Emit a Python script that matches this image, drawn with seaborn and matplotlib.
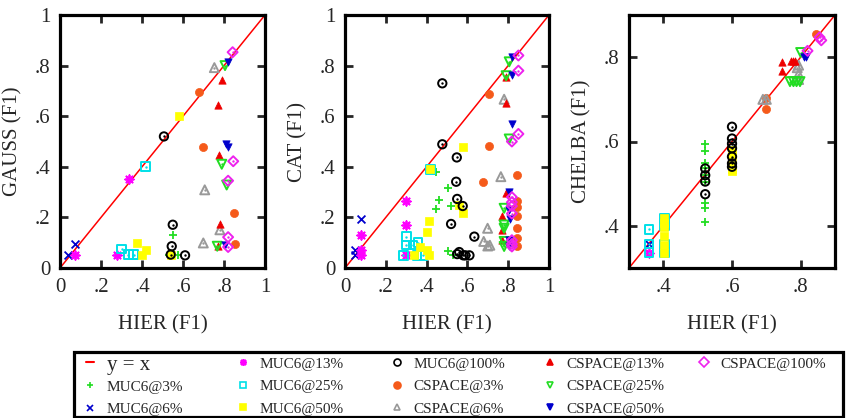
import matplotlib
matplotlib.use('Agg')
import numpy as np
import pandas as pd
import matplotlib.pyplot as plt
from matplotlib.lines import Line2D
from matplotlib.patches import Rectangle
import seaborn as sns

# series names (legend order)
SERIES = ["MUC6@3%", "MUC6@6%", "MUC6@13%", "MUC6@25%", "MUC6@50%", "MUC6@100%",
          "CSPACE@3%", "CSPACE@6%", "CSPACE@13%", "CSPACE@25%", "CSPACE@50%", "CSPACE@100%"]

# ---- GAUSS vs HIER (x = HIER F1, y = GAUSS F1)
gauss_muc6_3 = ([0.553, 0.53, 0.577], [0.13, 0.05, 0.05])
gauss_muc6_6 = ([0.04, 0.073], [0.053, 0.095])
gauss_muc6_13 = ([0.073, 0.276, 0.338], [0.05, 0.05, 0.353])
gauss_muc6_25 = ([0.30, 0.333, 0.36, 0.418], [0.075, 0.053, 0.053, 0.40])
gauss_muc6_50 = ([0.374, 0.418, 0.40, 0.58, 0.54], [0.10, 0.07, 0.053, 0.60, 0.053])
gauss_muc6_100 = ([0.507, 0.55, 0.545, 0.54, 0.61], [0.52, 0.171, 0.086, 0.053, 0.05])
gauss_cspace_3 = ([0.68, 0.699, 0.85, 0.855], [0.695, 0.478, 0.216, 0.095])
gauss_cspace_6 = ([0.753, 0.706, 0.699, 0.78], [0.792, 0.309, 0.099, 0.151])
gauss_cspace_13 = ([0.789, 0.772, 0.776, 0.78, 0.772], [0.743, 0.645, 0.445, 0.175, 0.088])
gauss_cspace_25 = ([0.805, 0.789, 0.813, 0.767], [0.80, 0.41, 0.328, 0.086])
gauss_cspace_50 = ([0.818, 0.81, 0.82, 0.805], [0.814, 0.49, 0.478, 0.092])
gauss_cspace_100 = ([0.842, 0.845, 0.82, 0.82, 0.82], [0.853, 0.422, 0.345, 0.122, 0.083])

# ---- CAT vs HIER
cat_muc6_3 = ([0.444, 0.504, 0.46, 0.444, 0.52, 0.504, 0.53],
              [0.38, 0.315, 0.269, 0.233, 0.246, 0.068, 0.05])
cat_muc6_6 = ([0.077, 0.049, 0.049], [0.193, 0.071, 0.051])
cat_muc6_13 = ([0.077, 0.077, 0.077, 0.30, 0.30, 0.30], [0.13, 0.071, 0.05, 0.265, 0.17, 0.05])
cat_muc6_25 = ([0.30, 0.30, 0.333, 0.358, 0.285, 0.353, 0.38, 0.418],
               [0.124, 0.091, 0.091, 0.10, 0.05, 0.05, 0.05, 0.39])
cat_muc6_50 = ([0.418, 0.411, 0.40, 0.366, 0.40, 0.34, 0.41, 0.58, 0.58, 0.56],
               [0.39, 0.187, 0.144, 0.084, 0.071, 0.05, 0.05, 0.477, 0.216, 0.25])
cat_muc6_100 = ([0.477, 0.477, 0.548, 0.545, 0.55, 0.577, 0.52, 0.634, 0.56, 0.55, 0.58, 0.59, 0.61],
                [0.73, 0.489, 0.437, 0.341, 0.273, 0.245, 0.174, 0.124, 0.063, 0.055, 0.05, 0.05, 0.05])
cat_cspace_3 = ([0.707, 0.707, 0.678, 0.845, 0.845, 0.845, 0.845, 0.845, 0.845, 0.845],
                [0.687, 0.483, 0.341, 0.369, 0.266, 0.242, 0.205, 0.159, 0.12, 0.087])
cat_cspace_6 = ([0.78, 0.764, 0.699, 0.68, 0.70, 0.71], [0.667, 0.361, 0.157, 0.105, 0.087, 0.09])
cat_cspace_13 = ([0.789, 0.789, 0.789, 0.77, 0.77, 0.77], [0.756, 0.653, 0.298, 0.205, 0.15, 0.11])
cat_cspace_25 = ([0.805, 0.79, 0.805, 0.78, 0.78, 0.78, 0.78, 0.78],
                 [0.815, 0.76, 0.51, 0.236, 0.17, 0.157, 0.105, 0.085])
cat_cspace_50 = ([0.818, 0.818, 0.818, 0.805, 0.805, 0.81, 0.805, 0.805],
                 [0.835, 0.763, 0.568, 0.302, 0.23, 0.193, 0.11, 0.085])
cat_cspace_100 = ([0.85, 0.85, 0.85, 0.818, 0.818, 0.818, 0.818, 0.818, 0.818, 0.818, 0.818],
                  [0.84, 0.78, 0.53, 0.50, 0.28, 0.26, 0.245, 0.215, 0.11, 0.095, 0.085])

# ---- CHELBA vs HIER
chelba_muc6_3 = ([0.522] * 9, [0.594, 0.578, 0.55, 0.536, 0.52, 0.505, 0.455, 0.442, 0.41])
chelba_muc6_6 = ([0.358], [0.357])
chelba_muc6_13 = ([0.358], [0.336])
chelba_muc6_25 = ([0.358, 0.358, 0.358, 0.403, 0.403, 0.403, 0.403],
                  [0.392, 0.357, 0.336, 0.418, 0.40, 0.355, 0.336])
chelba_muc6_50 = ([0.403] * 6 + [0.6] * 5,
                  [0.418, 0.407, 0.398, 0.375, 0.355, 0.336, 0.58, 0.565, 0.545, 0.535, 0.53])
chelba_muc6_100 = ([0.522] * 4 + [0.6] * 7,
                   [0.536, 0.52, 0.505, 0.475, 0.635, 0.607, 0.595, 0.584, 0.564, 0.548, 0.54])
chelba_cspace_3 = ([0.70, 0.70, 0.845], [0.704, 0.677, 0.854])
chelba_cspace_6 = ([0.69, 0.70, 0.794, 0.794, 0.794, 0.79], [0.70, 0.70, 0.781, 0.76, 0.747, 0.775])
chelba_cspace_13 = ([0.745, 0.745, 0.772, 0.779, 0.784], [0.788, 0.768, 0.792, 0.792, 0.792])
chelba_cspace_25 = ([0.769, 0.779, 0.788, 0.798, 0.80], [0.742, 0.742, 0.742, 0.742, 0.811])
chelba_cspace_50 = ([0.81, 0.815], [0.80, 0.80])
chelba_cspace_100 = ([0.82, 0.855, 0.86], [0.815, 0.847, 0.84])

gauss = [gauss_muc6_3, gauss_muc6_6, gauss_muc6_13, gauss_muc6_25, gauss_muc6_50, gauss_muc6_100,
         gauss_cspace_3, gauss_cspace_6, gauss_cspace_13, gauss_cspace_25, gauss_cspace_50, gauss_cspace_100]
cat = [cat_muc6_3, cat_muc6_6, cat_muc6_13, cat_muc6_25, cat_muc6_50, cat_muc6_100,
       cat_cspace_3, cat_cspace_6, cat_cspace_13, cat_cspace_25, cat_cspace_50, cat_cspace_100]
chelba = [chelba_muc6_3, chelba_muc6_6, chelba_muc6_13, chelba_muc6_25, chelba_muc6_50, chelba_muc6_100,
          chelba_cspace_3, chelba_cspace_6, chelba_cspace_13, chelba_cspace_25, chelba_cspace_50,
          chelba_cspace_100]

# marker, colour, size, open (hollow with centre dot)
STYLE = {
    "MUC6@3%": ('+', '#22dd22', 40, False),
    "MUC6@6%": ('x', '#0000cc', 32, False),
    "MUC6@13%": ((8, 2, 0), '#ff00ff', 38, False),
    "MUC6@25%": ('s', '#00e0e8', 40, True),
    "MUC6@50%": ('s', '#ffff00', 28, False),
    "MUC6@100%": ('o', '#000000', 36, True),
    "CSPACE@3%": ('o', '#f55a1a', 34, False),
    "CSPACE@6%": ('^', '#999999', 42, True),
    "CSPACE@13%": ('^', '#ee0000', 28, False),
    "CSPACE@25%": ('v', '#22dd22', 42, True),
    "CSPACE@50%": ('v', '#0000cc', 28, False),
    "CSPACE@100%": ('D', '#ee22ee', 26, True),
}

sns.set_style('ticks')
plt.rcParams['font.family'] = ['Liberation Serif', 'DejaVu Serif']
plt.rcParams['mathtext.fontset'] = 'stix'

W, H = 846, 418
fig = plt.figure(figsize=(W / 100, H / 100), dpi=100)


def px_axes(x0, x1, y0, y1):
    return fig.add_axes([x0 / W, 1 - y1 / H, (x1 - x0) / W, (y1 - y0) / H])


def draw(ax, data, lo, hi, ticks, ylabel):
    ax.plot([lo, hi], [lo, hi], color='red', lw=1.1, zorder=1)
    for name, (xs, ys) in zip(SERIES, data):
        m, c, s, hollow = STYLE[name]
        df = pd.DataFrame({'x': xs, 'y': ys})
        if m in ('+', 'x') or isinstance(m, tuple):
            sns.scatterplot(data=df, x='x', y='y', ax=ax, marker=m, s=s, color=c,
                            linewidth=1.3, zorder=3)
        elif hollow:
            sns.scatterplot(data=df, x='x', y='y', ax=ax, marker=m, s=s, color=c,
                            facecolor='none', edgecolor=c, linewidth=1.4, zorder=3)
            sns.scatterplot(data=df, x='x', y='y', ax=ax, marker='o', s=3, color=c,
                            edgecolor=c, linewidth=0, zorder=3)
        else:
            sns.scatterplot(data=df, x='x', y='y', ax=ax, marker=m, s=s, color=c,
                            edgecolor=c, linewidth=0.5, zorder=3)
    ax.set_xlim(lo, hi)
    ax.set_ylim(lo, hi)
    labels = [('%g' % t).replace('0.', '.') for t in ticks]
    ax.set_xticks(ticks)
    ax.set_xticklabels(labels)
    ax.set_yticks(ticks)
    ax.set_yticklabels(labels)
    ax.tick_params(direction='in', length=6, width=2, labelsize=15, pad=7,
                   top=True, right=True)
    for sp in ax.spines.values():
        sp.set_linewidth(2.3)
        sp.set_color('black')
    ax.set_xlabel('HIER (F1)', fontsize=15, labelpad=13)
    ax.set_ylabel(ylabel, fontsize=15, labelpad=9)


ticks01 = [0, 0.2, 0.4, 0.6, 0.8, 1]
ax1 = px_axes(60, 265, 15, 268)
draw(ax1, gauss, 0, 1, ticks01, 'GAUSS (F1)')
ax2 = px_axes(345, 549, 15, 268)
draw(ax2, cat, 0, 1, ticks01, 'CAT (F1)')
ax3 = px_axes(629, 835, 15, 268)
draw(ax3, chelba, 0.3, 0.9, [0.4, 0.6, 0.8], 'CHELBA (F1)')


# ---- legend: gnuplot-like fixed-width columns inside one box
def handle_for(name):
    m, c, s, hollow = STYLE[name]
    if hollow:
        return Line2D([], [], ls='none', marker=m, markersize=5, markerfacecolor='none',
                      markeredgecolor=c, markeredgewidth=1.2)
    return Line2D([], [], ls='none', marker=m, markersize=5, color=c, markeredgewidth=1.2)


def col_legend(handles, labels, marker_x, top_px, fs, hl, tp):
    hl_px = hl * fs * 100 / 72
    leg = fig.legend(handles, labels, loc='upper left',
                     bbox_to_anchor=((marker_x - hl_px / 2) / W, 1 - top_px / H),
                     frameon=False, borderpad=0, borderaxespad=0, fontsize=fs,
                     handlelength=hl, handletextpad=tp, labelspacing=0.58)
    return leg


fig.add_artist(Rectangle((74 / W, 1 / H), (843 - 74) / W, (417 - 352) / H,
                         transform=fig.transFigure, fill=False, lw=2.3, ec='black'))

col_legend([Line2D([], [], color='red', lw=1.5)], ['y = x'], 90, 355, 15, 0.34, 0.64)
col_legend([handle_for(n) for n in SERIES[0:2]], SERIES[0:2], 90, 380, 11, 0.6, 0.8)
col_x = [243, 397, 550, 704]
for i, x in enumerate(col_x):
    names = SERIES[2 + 3 * i: 5 + 3 * i]
    col_legend([handle_for(n) for n in names], names, x, 357, 11, 0.6, 0.8)

fig.savefig('out.png', dpi=100)
